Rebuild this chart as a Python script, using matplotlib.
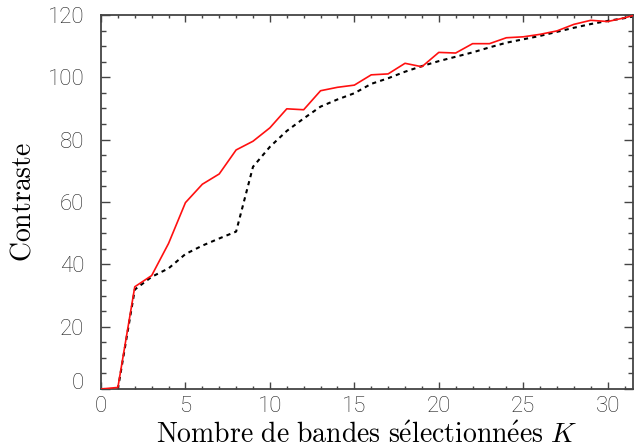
import matplotlib
matplotlib.use("Agg")
import matplotlib.pyplot as plt
from matplotlib.ticker import MultipleLocator

# nombre de bandes K
k_values = list(range(0, 33))
contraste_rouge = [0, 0.5, 32.8, 36.4, 46.7, 59.8, 65.7, 69.0, 76.7, 79.5, 83.8,
                   89.9, 89.6, 95.7, 96.8, 97.5, 100.8, 101.1, 104.5, 103.4, 108.0,
                   107.8, 110.8, 110.8, 112.7, 113.0, 113.8, 114.9, 117.0, 118.3,
                   117.9, 119.1, 120.5]
contraste_noir = [0, 0, 31.9, 36.0, 38.7, 43.3, 46.0, 48.3, 50.5, 71.3, 77.7,
                  82.8, 86.8, 90.6, 92.9, 94.9, 97.9, 99.7, 101.8, 103.6, 105.2,
                  106.6, 108.0, 109.6, 111.1, 112.2, 113.3, 114.6, 115.9, 117.1,
                  118.1, 119.0, 120.0]
x_ticks = [0, 5, 10, 15, 20, 25, 30]
y_ticks = [0, 20, 40, 60, 80, 100, 120]

plt.rcParams['mathtext.fontset'] = 'cm'
tick_font = 'Roboto'
axis_col = '#444444'

fig = plt.figure(figsize=(6.36, 4.48), dpi=100)
ax = fig.add_axes([101 / 636, 59 / 448, 532 / 636, 374 / 448])

ax.plot(k_values, contraste_noir, color='black', lw=1.5, linestyle=(0, (2, 2)))
ax.plot(k_values, contraste_rouge, color='#ff1010', lw=1.2, zorder=3)

ax.set_xlim(0, 31.5)
ax.set_ylim(0, 120)
ax.set_xticks(x_ticks)
ax.set_yticks(y_ticks)
ax.xaxis.set_minor_locator(MultipleLocator(1))
ax.yaxis.set_minor_locator(MultipleLocator(5))

for s in ax.spines.values():
    s.set_color(axis_col)
    s.set_linewidth(1.3)

ax.tick_params(which='both', direction='in', top=True, right=True, color=axis_col, width=1.0)
ax.tick_params(axis='x', which='major', length=5, pad=5)
ax.tick_params(axis='x', which='minor', length=2.5)
ax.tick_params(axis='y', which='major', length=6.5, pad=12)
ax.tick_params(axis='y', which='minor', length=3.5)

for lab in ax.get_xticklabels() + ax.get_yticklabels():
    lab.set_fontfamily(tick_font)
    lab.set_fontweight('light')
    lab.set_fontsize(16)
    lab.set_color('#222222')
ax.get_yticklabels()[0].set_va('baseline')

ax.set_xlabel(r'$\mathrm{Nombre\ de\ bandes\ s\acute{e}lectionn\acute{e}es}\ K$', fontsize=20, labelpad=3)
ax.set_ylabel(r'$\mathrm{Contraste}$', fontsize=20, labelpad=8)

fig.savefig('out.png', dpi=100)
